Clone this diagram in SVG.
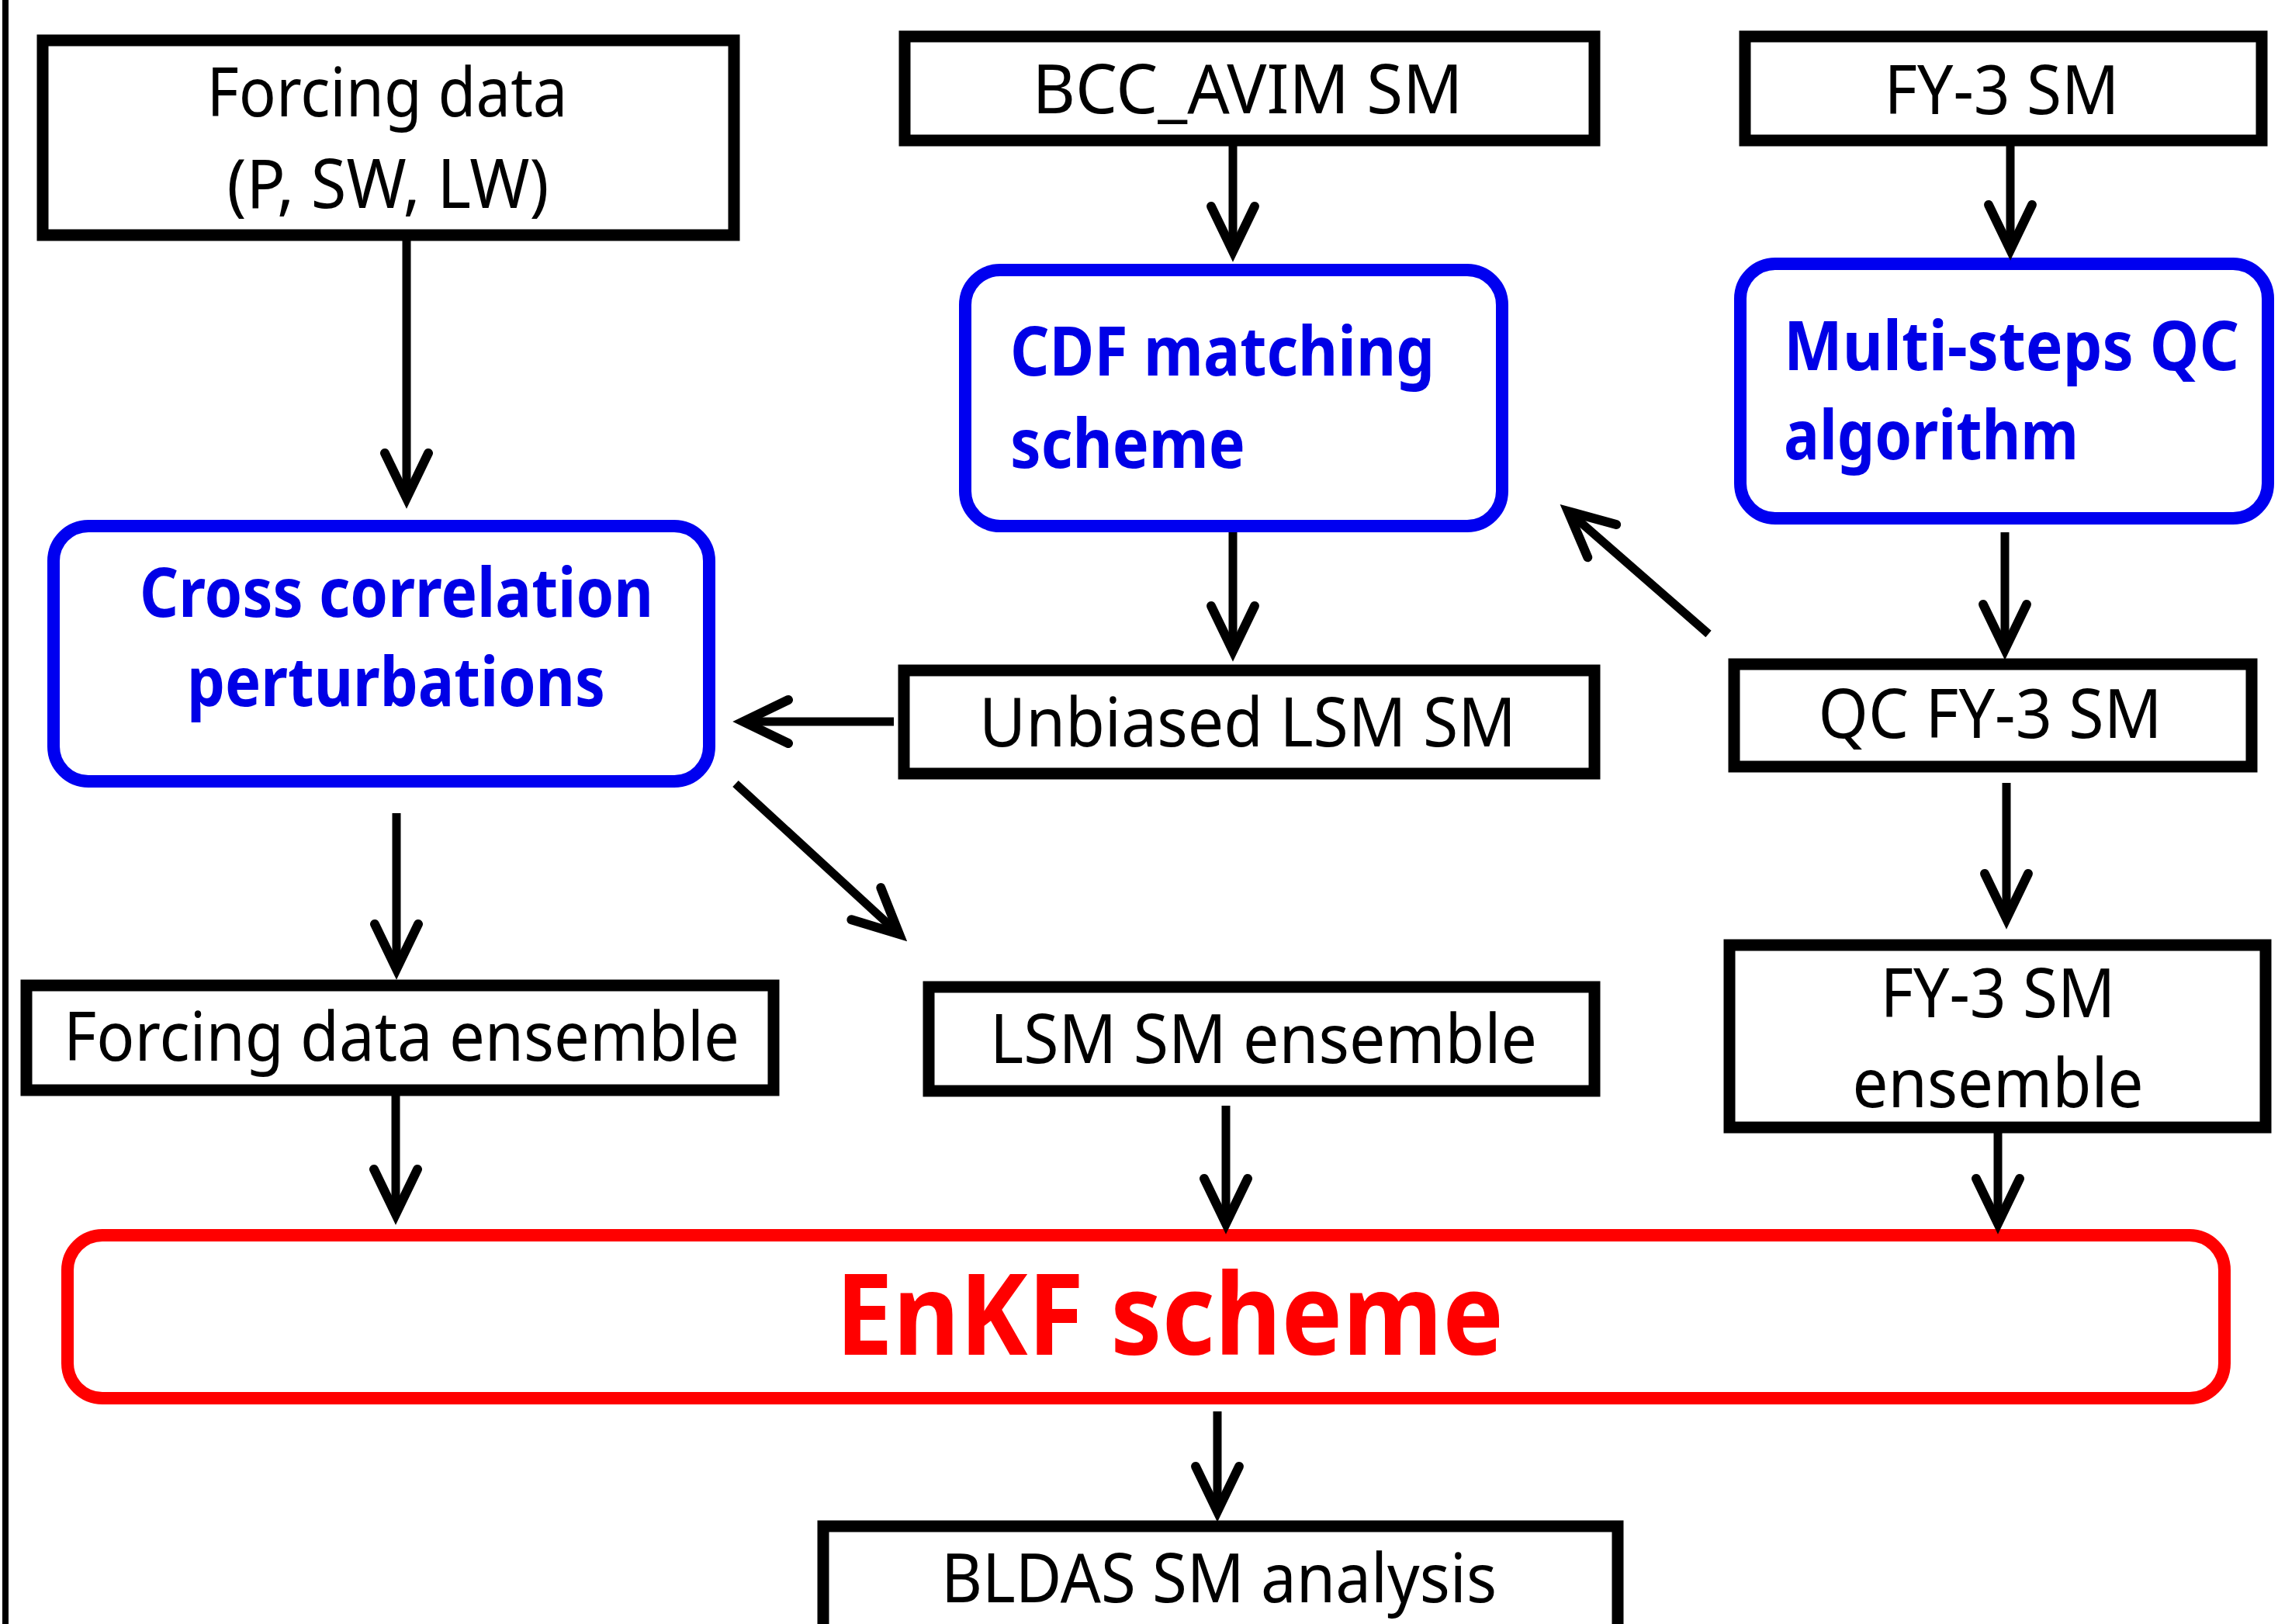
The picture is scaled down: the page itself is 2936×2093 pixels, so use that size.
<svg xmlns="http://www.w3.org/2000/svg" width="2936" height="2093" viewBox="0 0 2936 2093">
<style>
.box{fill:#fff;stroke:#000;stroke-width:15}
.proc{fill:#fff;stroke:#0000f0;stroke-width:16}
.main{fill:#fff;stroke:#ff0000;stroke-width:16}
.t{font-family:"Noto Sans","Open Sans",sans-serif;font-size:88px;fill:#000}
.tb{font-family:"Noto Sans","Open Sans",sans-serif;font-size:88px;font-weight:bold;fill:#0000e6}
.tr{font-family:"Noto Sans","Open Sans",sans-serif;font-size:146px;font-weight:bold;fill:#ff0000}
.c{text-anchor:middle}
.conn line{stroke:#000;stroke-width:11;marker-end:url(#ah)}
</style>
<defs>
<marker id="ah" markerUnits="userSpaceOnUse" markerWidth="100" markerHeight="100" viewBox="-80 -50 100 100" refX="0" refY="0" orient="auto" overflow="visible">
<path d="M-58,-28 L0,0 L-58,28" fill="none" stroke="#000" stroke-width="12" stroke-linecap="round" stroke-linejoin="miter"/>
</marker>
</defs>
<rect width="2936" height="2093" fill="#fff"/>
<line x1="7" y1="0" x2="7" y2="2093" stroke="#000" stroke-width="8"/>

<g id="forcing">
<rect class="box" x="55" y="52" width="891" height="251"/>
<text class="t c" x="499" y="150" textLength="465" lengthAdjust="spacingAndGlyphs">Forcing data</text>
<text class="t c" x="500" y="268" textLength="415" lengthAdjust="spacingAndGlyphs">(P, SW, LW)</text>
</g>
<g id="bcc">
<rect class="box" x="1166" y="47" width="889" height="134"/>
<text class="t c" x="1608" y="146" textLength="555" lengthAdjust="spacingAndGlyphs">BCC_AVIM SM</text>
</g>
<g id="fy3">
<rect class="box" x="2249" y="47" width="666" height="134"/>
<text class="t c" x="2580" y="147" textLength="303" lengthAdjust="spacingAndGlyphs">FY-3 SM</text>
</g>
<g id="cdf">
<rect class="proc" x="1244" y="348" width="692" height="330" rx="45"/>
<text class="tb" x="1302" y="484" textLength="547" lengthAdjust="spacingAndGlyphs">CDF matching</text>
<text class="tb" x="1302" y="603" textLength="303" lengthAdjust="spacingAndGlyphs">scheme</text>
</g>
<g id="qcalg">
<rect class="proc" x="2243" y="340" width="680" height="328" rx="45"/>
<text class="tb" x="2299" y="477" textLength="587" lengthAdjust="spacingAndGlyphs">Multi-steps QC</text>
<text class="tb" x="2299" y="592" textLength="380" lengthAdjust="spacingAndGlyphs">algorithm</text>
</g>
<g id="cross">
<rect class="proc" x="69" y="678" width="845" height="329" rx="45"/>
<text class="tb" x="180" y="795" textLength="662" lengthAdjust="spacingAndGlyphs">Cross correlation</text>
<text class="tb" x="241" y="910" textLength="539" lengthAdjust="spacingAndGlyphs">perturbations</text>
</g>
<g id="unbiased">
<rect class="box" x="1165" y="864" width="890" height="133"/>
<text class="t c" x="1608" y="962" textLength="692" lengthAdjust="spacingAndGlyphs">Unbiased LSM SM</text>
</g>
<g id="qcfy3">
<rect class="box" x="2235" y="856" width="667" height="132"/>
<text class="t c" x="2565" y="951" textLength="443" lengthAdjust="spacingAndGlyphs">QC FY-3 SM</text>
</g>
<g id="forcingens">
<rect class="box" x="34" y="1270" width="963" height="135"/>
<text class="t" x="82" y="1367" textLength="871" lengthAdjust="spacingAndGlyphs">Forcing data ensemble</text>
</g>
<g id="lsmens">
<rect class="box" x="1197" y="1272" width="858" height="134"/>
<text class="t" x="1276" y="1370" textLength="705" lengthAdjust="spacingAndGlyphs">LSM SM ensemble</text>
</g>
<g id="fy3ens">
<rect class="box" x="2229" y="1218" width="691" height="235"/>
<text class="t c" x="2575" y="1311" textLength="303" lengthAdjust="spacingAndGlyphs">FY-3 SM</text>
<text class="t c" x="2575" y="1427" textLength="375" lengthAdjust="spacingAndGlyphs">ensemble</text>
</g>
<g id="enkf">
<rect class="main" x="87" y="1592" width="2780" height="210" rx="45"/>
<text class="tr" x="1077" y="1746" textLength="861" lengthAdjust="spacingAndGlyphs">EnKF scheme</text>
</g>
<g id="bldas">
<rect class="box" x="1061" y="1967" width="1024" height="200"/>
<text class="t c" x="1571" y="2065" textLength="716" lengthAdjust="spacingAndGlyphs">BLDAS SM analysis</text>
</g>

<g id="connectors" class="conn">
<line x1="524" y1="310" x2="524" y2="642"/>
<line x1="1589" y1="188" x2="1589" y2="324"/>
<line x1="2591" y1="188" x2="2591" y2="322"/>
<line x1="1589" y1="686" x2="1589" y2="839"/>
<line x1="2584" y1="686" x2="2584" y2="837"/>
<line x1="2202" y1="817" x2="2021" y2="659"/>
<line x1="1152" y1="930" x2="958" y2="930"/>
<line x1="948" y1="1010" x2="1159" y2="1204"/>
<line x1="511" y1="1048" x2="511" y2="1249"/>
<line x1="2586" y1="1009" x2="2586" y2="1184"/>
<line x1="510" y1="1412" x2="510" y2="1565"/>
<line x1="1580" y1="1425" x2="1580" y2="1577"/>
<line x1="2575" y1="1460" x2="2575" y2="1577"/>
<line x1="1569" y1="1819" x2="1569" y2="1948"/>
</g>
</svg>
